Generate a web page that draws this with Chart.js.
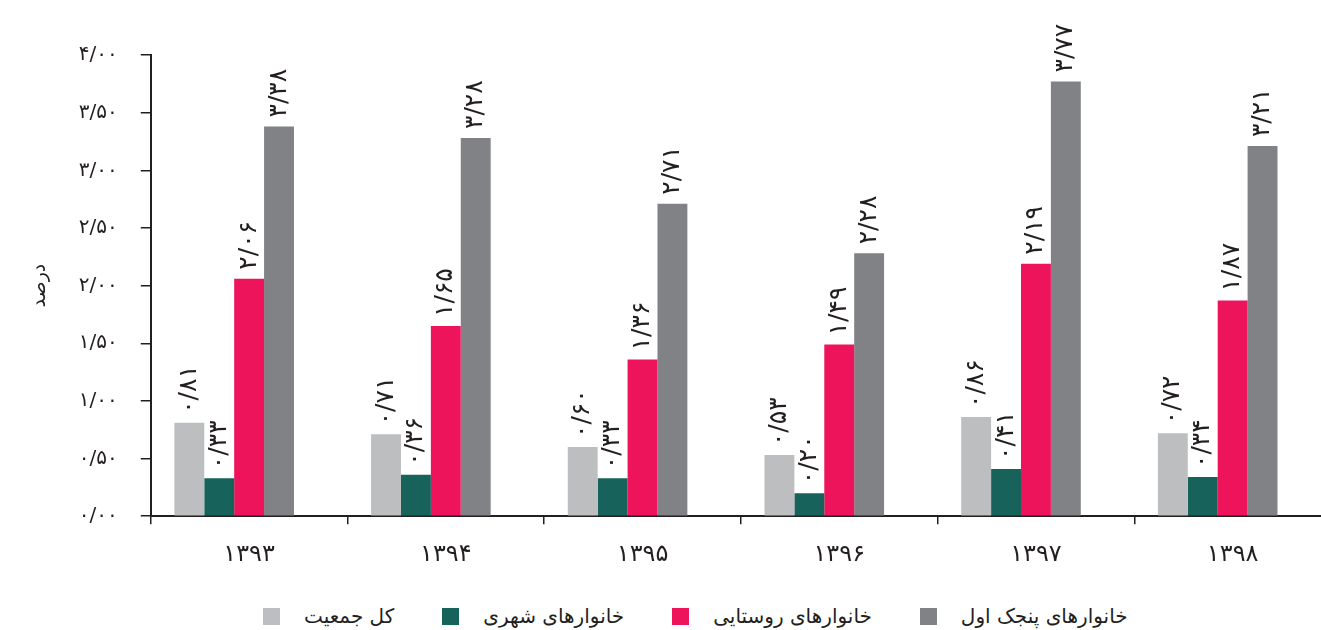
<!DOCTYPE html>
<html>
<head>
<meta charset="utf-8">
<script src="https://cdn.jsdelivr.net/npm/chart.js@4/dist/chart.umd.min.js"></script>
<style>
  html, body { margin: 0; padding: 0; background: #fff; overflow: hidden; }
  #wrap { position: absolute; left: 0; top: 0; width: 1331px; height: 595px; }
  #legend { position: absolute; left: 263px; top: 604px; display: flex; align-items: center;
            font-family: 'DejaVu Sans', 'Noto Sans', sans-serif; font-size: 20px; color: #231F20; }
  #legend .item { display: flex; align-items: center; margin-right: 48px; }
  #legend .box { width: 17px; height: 17px; margin-right: 24px; }
</style>
</head>
<body>
<div id="wrap"><canvas id="chart"></canvas></div>
<div id="legend"></div>
<script>
// years on the x axis
const years = ["1393", "1394", "1395", "1396", "1397", "1398"];
// series names (legend)
const seriesNames = ["کل جمعیت", "خانوارهای شهری", "خانوارهای روستایی", "خانوارهای پنجک اول"];
// values in percent
const totalPop = [0.81, 0.71, 0.60, 0.53, 0.86, 0.72];
const urban = [0.33, 0.36, 0.33, 0.20, 0.41, 0.34];
const rural = [2.06, 1.65, 1.36, 1.49, 2.19, 1.87];
const firstQuintile = [3.38, 3.28, 2.71, 2.28, 3.77, 3.21];
const yTicks = [0, 0.5, 1, 1.5, 2, 2.5, 3, 3.5, 4];
const colors = ["#BCBEC0", "#17625A", "#ED145B", "#808285"];

const faDigits = "۰۱۲۳۴۵۶۷۸۹";
function toFa(s) {
  return String(s).replace(/[0-9]/g, d => faDigits[d]).replace(".", "/");
}

const FONT = "'DejaVu Sans', 'Noto Sans', sans-serif";
const INK = "#231F20";

// rotated value labels above the bars
const valueLabels = {
  id: "valueLabels",
  afterDatasetsDraw(chart) {
    const ctx = chart.ctx;
    ctx.save();
    ctx.fillStyle = INK;
    ctx.font = "25px " + FONT;
    ctx.textAlign = "left";
    ctx.textBaseline = "middle";
    chart.data.datasets.forEach((ds, i) => {
      if (i > 3) return;
      chart.getDatasetMeta(i).data.forEach((bar, j) => {
        ctx.save();
        ctx.translate(bar.x, bar.y - 9);
        ctx.rotate(-Math.PI / 2);
        ctx.fillText(toFa(ds.data[j].toFixed(2)), 0, 0);
        ctx.restore();
      });
    });
    ctx.restore();
  }
};

const seriesData = [totalPop, urban, rural, firstQuintile];
const datasets = seriesData.map((d, i) => ({
  label: seriesNames[i],
  data: d,
  backgroundColor: colors[i],
  borderWidth: 0
}));
// empty slot so the group sits left of the category centre
datasets.push({ label: "", data: years.map(() => null), backgroundColor: "transparent" });

new Chart(document.getElementById("chart"), {
  type: "bar",
  data: { labels: years.map(toFa), datasets: datasets },
  options: {
    responsive: true,
    maintainAspectRatio: false,
    animation: false,
    barPercentage: 1,
    categoryPercentage: 0.76,
    layout: { padding: { left: 15, top: 55, right: 0, bottom: 10 } },
    scales: {
      x: {
        grid: { drawOnChartArea: false, tickLength: 8, color: INK, lineWidth: 1.5 },
        border: { color: INK, width: 2 },
        ticks: { color: INK, font: { family: FONT, size: 24 }, padding: 16 }
      },
      y: {
        min: 0,
        max: 4,
        afterBuildTicks: axis => { axis.ticks = yTicks.map(v => ({ value: v })); },
        grid: { drawOnChartArea: false, tickLength: 10, color: INK, lineWidth: 1.5 },
        border: { color: INK, width: 2 },
        ticks: {
          color: INK,
          font: { family: FONT, size: 20 },
          padding: 23,
          callback: v => toFa(Number(v).toFixed(2))
        },
        title: { display: true, text: "درصد", color: INK, font: { family: FONT, size: 19 }, padding: { top: 14, bottom: 4 } }
      }
    },
    plugins: {
      legend: { display: false },
      tooltip: { enabled: false }
    }
  },
  plugins: [valueLabels]
});

// legend under the chart
const legend = document.getElementById("legend");
seriesNames.forEach((name, i) => {
  const item = document.createElement("div");
  item.className = "item";
  const box = document.createElement("span");
  box.className = "box";
  box.style.background = colors[i];
  const text = document.createElement("span");
  text.textContent = name;
  item.appendChild(box);
  item.appendChild(text);
  legend.appendChild(item);
});
</script>
</body>
</html>
